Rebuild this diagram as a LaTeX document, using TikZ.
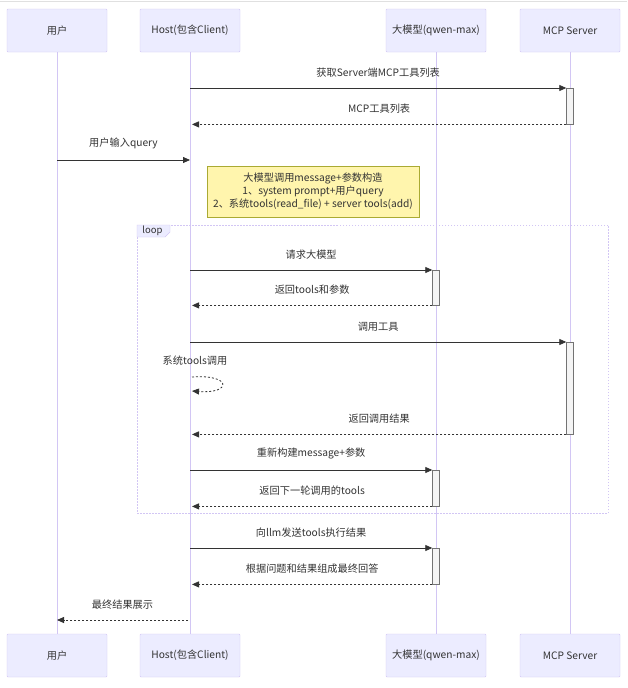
\documentclass[tikz,border=0pt]{standalone}
\usepackage{fontspec}
\setmainfont{Noto Sans CJK SC}
\usetikzlibrary{arrows.meta}
\definecolor{actfill}{HTML}{ECECFF}
\definecolor{actline}{HTML}{D2C6F4}
\definecolor{notefill}{HTML}{FFF5AD}
\definecolor{noteline}{HTML}{AAAA33}
\definecolor{actvfill}{HTML}{F4F4F4}
\definecolor{ink}{HTML}{333333}
\begin{document}
\begin{tikzpicture}[x=1pt, y=-1pt, font=\fontsize{10.2}{13}\selectfont, text=ink,
  actor/.style = {draw=actline, fill=actfill, minimum width=100pt, minimum height=43pt, inner sep=0pt, rounded corners=1pt},
  life/.style = {draw=actline, line width=0.9pt},
  msg/.style = {draw=ink, line width=0.8pt, -{Triangle[length=7pt,width=6pt]}},
  reply/.style = {msg, dash pattern=on 2pt off 2pt},
  act/.style = {draw=black!55, fill=actvfill, minimum width=7pt, inner sep=0pt, anchor=north},
  lbl/.style = {midway, above=7pt}]
\useasboundingbox[fill=white] (0,0) rectangle (627,688);
\draw[black!12] (0,1.5) -- (627,1.5);
\node[actor] (uTop) at (57,30.5) {用户};
\node[actor] (hTop) at (190,30.5) {Host(包含Client)};
\node[actor] (mTop) at (436,30.5) {大模型(qwen-max)};
\node[actor] (sTop) at (570,30.5) {MCP Server};
\node[actor] (uBot) at (57,655.5) {用户};
\node[actor] (hBot) at (190,655.5) {Host(包含Client)};
\node[actor] (mBot) at (436,655.5) {大模型(qwen-max)};
\node[actor] (sBot) at (570,655.5) {MCP Server};
\draw[life] (uTop) -- (uBot);
\draw[life] (hTop) -- (hBot);
\draw[life] (mTop) -- (mBot);
\draw[life] (sTop) -- (sBot);
\draw[actline, line width=0.8pt, dash pattern=on 1.5pt off 1.5pt] (137,225) rectangle (608,513);
\draw[actline, fill=actfill] (137,225) -- (170,225) -- (170,232) -- (165,237) -- (137,237) -- cycle;
\node[font=\fontsize{9.5}{10}\selectfont] (loopTag) at (152.5,230.5) {loop};
\node[act, minimum height=36pt] (s1) at (570,88) {};
\draw[msg] (hTop |- s1.north) -- node[lbl]{获取Server端MCP工具列表} (s1.north west);
\draw[reply] (s1.south west) -- node[lbl]{MCP工具列表} ([xshift=2pt]hTop |- s1.south);
\draw[msg] (uTop |- 0,160) -- node[lbl]{用户输入query} (hTop |- 0,160);
\node[draw=noteline, fill=notefill, minimum width=212pt, minimum height=51pt, align=center, inner sep=2pt] (plan) at (313,191.5)
  {大模型调用message+参数构造\\1、system prompt+用户query\\2、系统tools(read\_file) + server tools(add)};
\node[act, minimum height=35pt] (m1) at (436,270) {};
\draw[msg] (hTop |- m1.north) -- node[lbl]{请求大模型} (m1.north west);
\draw[reply] (m1.south west) -- node[lbl]{返回tools和参数} ([xshift=2pt]hTop |- m1.south);
\node[act, minimum height=92pt] (s2) at (570,342) {};
\draw[msg] (hTop |- s2.north) -- node[lbl]{调用工具} (s2.north west);
\coordinate (selfA) at (192,377);
\coordinate (selfB) at (192,391);
\node (selfTxt) at (195,361) {系统tools调用};
\draw[reply] (selfA) .. controls (232,374) and (232,394) .. (selfB);
\draw[reply] (s2.south west) -- node[lbl]{返回调用结果} ([xshift=2pt]hTop |- s2.south);
\node[act, minimum height=36pt] (m2) at (436,470) {};
\draw[msg] (hTop |- m2.north) -- node[lbl]{重新构建message+参数} (m2.north west);
\draw[reply] (m2.south west) -- node[lbl]{返回下一轮调用的tools} ([xshift=2pt]hTop |- m2.south);
\node[act, minimum height=36pt] (m3) at (436,548) {};
\draw[msg] (hTop |- m3.north) -- node[lbl]{向llm发送tools执行结果} (m3.north west);
\draw[reply] (m3.south west) -- node[lbl]{根据问题和结果组成最终回答} ([xshift=2pt]hTop |- m3.south);
\draw[reply] ([xshift=-2pt]hTop |- 0,620) -- node[lbl]{最终结果展示} (uTop |- 0,620);
\end{tikzpicture}
\end{document}
